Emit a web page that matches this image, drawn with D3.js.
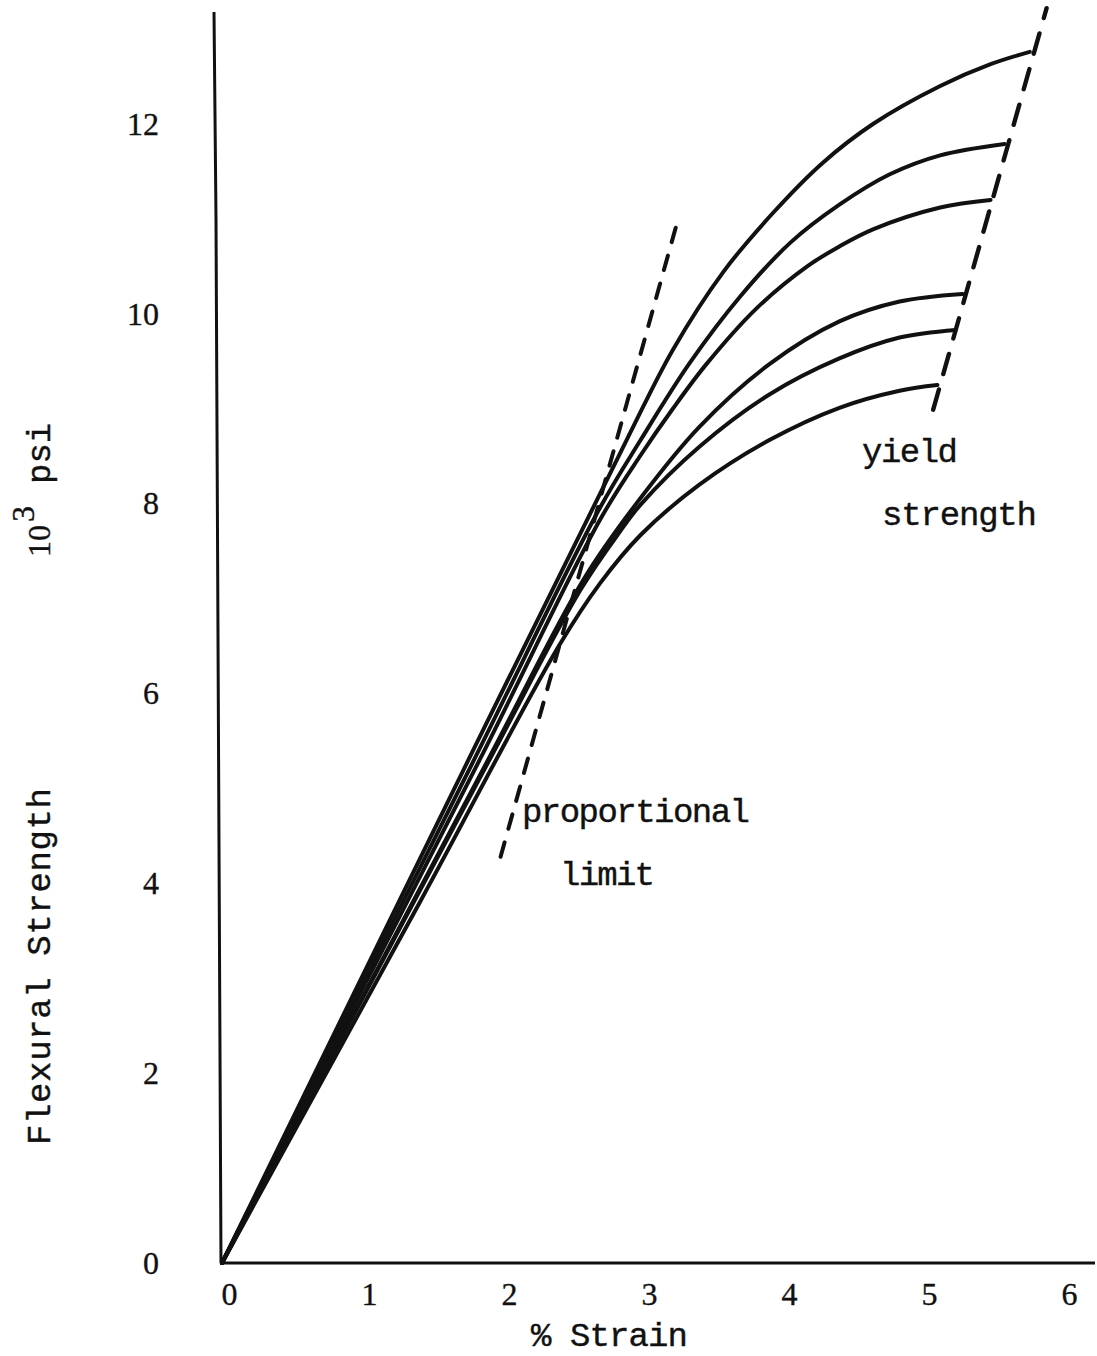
<!DOCTYPE html>
<html><head><meta charset="utf-8">
<script src="https://cdn.jsdelivr.net/npm/d3@7"></script>
<style>
body{margin:0;background:#fff;}
svg text{font-family:"Liberation Mono","Courier New",monospace;font-size:34px;fill:#111;stroke:#111;stroke-width:0.4px;}
svg .tick text{font-family:"Liberation Serif","Times New Roman",serif;font-size:32px;stroke-width:0.35px;}
</style></head><body>
<svg id="chart" width="1097" height="1356"></svg>
<script>
// ---- data (x: % strain, y: 10^3 psi) ----
const xTicks = [0, 1, 2, 3, 4, 5, 6];
const yTicks = [0, 2, 4, 6, 8, 10, 12];
const curve1 = [[0,0],[1.76,5.30],[2.89,8.67],[3.22,9.62],[3.58,10.44],[3.94,11.07],[4.29,11.59],[4.65,12.00],[5.13,12.40],[5.49,12.63],[5.77,12.76]];
const curve2 = [[0,0],[1.80,5.30],[2.69,7.93],[2.99,8.67],[3.34,9.48],[3.70,10.18],[4.06,10.75],[4.41,11.15],[4.77,11.47],[5.13,11.67],[5.59,11.79]];
const curve3 = [[0,0],[1.84,5.30],[2.70,7.83],[2.99,8.51],[3.22,9.00],[3.46,9.47],[3.82,10.06],[4.18,10.50],[4.41,10.71],[4.65,10.89],[5.13,11.12],[5.49,11.20]];
const curve4 = [[0,0],[1.90,5.30],[2.59,7.22],[2.99,8.06],[3.41,8.81],[3.91,9.47],[4.41,9.92],[4.84,10.13],[5.29,10.21]];
const curve5 = [[0,0],[1.91,5.30],[2.56,7.09],[2.84,7.70],[2.99,7.99],[3.41,8.60],[3.91,9.15],[4.41,9.53],[4.84,9.75],[5.24,9.83]];
const curve6 = [[0,0],[1.42,3.82],[2.41,6.51],[2.70,7.16],[2.99,7.67],[3.41,8.20],[3.91,8.67],[4.41,9.01],[4.84,9.19],[5.11,9.25]];
const curves = [curve1, curve2, curve3, curve4, curve5, curve6];
const proportionalLimit = [[1.99,4.28],[3.26,11.01]];
const yieldStrength = [[5.08,8.99],[5.89,13.22]];
const xTitle = "% Strain";
const yTitle = "Flexural Strength";
const yUnitBase = "10", yUnitExp = "3", yUnitRest = "psi";
const labelProp = ["proportional", "limit"];
const labelYield = ["yield", "strength"];

// ---- drawing ----
const W = 1097, H = 1356;
const svg = d3.select("#chart");
svg.append("rect").attr("width", W).attr("height", H).attr("fill", "#fff");

const x = d3.scaleLinear().domain([0, 6]).range([222, 1062]);
const y = d3.scaleLinear().domain([0, 12]).range([1263, 124]);

// axis lines (hand drawn look)
svg.append("path")
  .attr("d", `M${x(0)},${y(0)} L${W - 2},${y(0)}`)
  .attr("stroke", "#111").attr("stroke-width", 3).attr("fill", "none");
svg.append("path")
  .attr("d", `M${x(0) - 1},${y(0)} L${x(0) - 6},${y(11)} L${x(0) - 8},${y(13.18)}`)
  .attr("stroke", "#111").attr("stroke-width", 3).attr("fill", "none");

// tick labels via d3 axes
const gx = svg.append("g").attr("transform", `translate(0,${y(0)})`)
  .call(d3.axisBottom(x).tickValues(xTicks).tickSize(0).tickPadding(19).tickFormat(d3.format("d")));
gx.select(".domain").remove();
gx.selectAll("text").attr("dx", 7);

const gy = svg.append("g").attr("transform", `translate(${x(0)},0)`)
  .call(d3.axisLeft(y).tickValues(yTicks).tickSize(0).tickPadding(63).tickFormat(d3.format("d")));
gy.select(".domain").remove();

// curves
const line = d3.line().x(d => x(d[0])).y(d => y(d[1])).curve(d3.curveCatmullRom.alpha(0.5));
svg.append("g").selectAll("path").data(curves).join("path")
  .attr("d", line)
  .attr("fill", "none").attr("stroke", "#111").attr("stroke-width", 4)
  .attr("stroke-linecap", "round").attr("stroke-linejoin", "round");

// dashed guide lines
const straight = d3.line().x(d => x(d[0])).y(d => y(d[1]));
svg.append("path").attr("d", straight(proportionalLimit))
  .attr("fill", "none").attr("stroke", "#111").attr("stroke-width", 4)
  .attr("stroke-linecap", "round").attr("stroke-dasharray", "15,14");
svg.append("path").attr("d", straight(yieldStrength))
  .attr("fill", "none").attr("stroke", "#111").attr("stroke-width", 4.4)
  .attr("stroke-linecap", "round").attr("stroke-dasharray", "21,16");

// annotations
svg.append("text").attr("x", 522).attr("y", 822).attr("textLength", 228).attr("lengthAdjust", "spacing").text(labelProp[0]);
svg.append("text").attr("x", 560).attr("y", 885).attr("textLength", 95).attr("lengthAdjust", "spacing").text(labelProp[1]);
svg.append("text").attr("x", 862).attr("y", 462).attr("textLength", 96).attr("lengthAdjust", "spacing").text(labelYield[0]);
svg.append("text").attr("x", 882).attr("y", 525).attr("textLength", 155).attr("lengthAdjust", "spacing").text(labelYield[1]);

// axis titles
svg.append("text").attr("x", 531).attr("y", 1346).attr("textLength", 157).attr("lengthAdjust", "spacing").text(xTitle);
svg.append("text").attr("transform", "translate(50,1145) rotate(-90)")
  .attr("textLength", 357).attr("lengthAdjust", "spacing").text(yTitle);
const unit = svg.append("text").attr("transform", "translate(50,557) rotate(-90)");
unit.append("tspan").style("font-family", "'Liberation Serif',serif").style("font-size", "32px").text(yUnitBase);
unit.append("tspan").attr("dy", -16).attr("dx", 3).style("font-family", "'Liberation Serif',serif").style("font-size", "32px").text(yUnitExp);
unit.append("tspan").attr("dy", 16).attr("dx", 22).text(yUnitRest);
</script>
</body></html>
